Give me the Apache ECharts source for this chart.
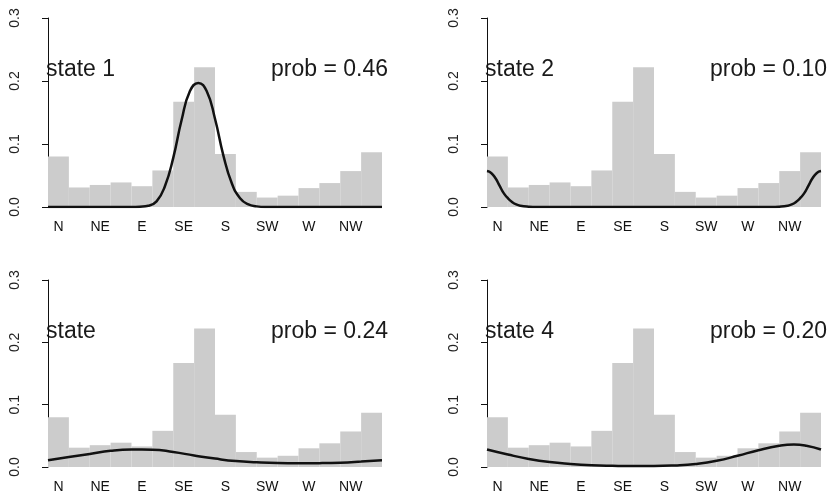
<!DOCTYPE html>
<html>
<head>
<meta charset="utf-8">
<script src="https://cdn.jsdelivr.net/npm/echarts@6/dist/echarts.min.js"></script>
<style>
  html, body { margin: 0; padding: 0; background: #fff; }
  #main { width: 832px; height: 494px; }
</style>
</head>
<body>
<div id="main"></div>
<script>
// 16 wind direction bins
var dirs = ['N', 'NNE', 'NE', 'ENE', 'E', 'ESE', 'SE', 'SSE', 'S', 'SSW', 'SW', 'WSW', 'W', 'WNW', 'NW', 'NNW'];
// histogram (density per bin), same in every panel
var histVals = [0.080, 0.031, 0.035, 0.039, 0.033, 0.058, 0.167, 0.222, 0.084, 0.024, 0.015, 0.018, 0.030, 0.038, 0.057, 0.087];

// fitted curves, [position in bins, density]
var curve1 = [[0, 0], [2, 0], [3.2, 0], [4.0, 0], [4.4, 0.0005], [4.8, 0.002], [5.2, 0.009], [5.6, 0.033], [6.0, 0.078],
  [6.4, 0.138], [6.8, 0.184], [7.2, 0.197], [7.6, 0.184], [8.0, 0.140], [8.4, 0.082], [8.8, 0.038], [9.2, 0.014],
  [9.6, 0.004], [10.0, 0.001], [10.4, 0], [11.6, 0], [13, 0], [16, 0]];
var curve2 = [[0, 0.057], [0.2, 0.054], [0.4, 0.046], [0.6, 0.034], [0.8, 0.022], [1.0, 0.014], [1.2, 0.008], [1.4, 0.004],
  [1.6, 0.002], [2.0, 0.0005], [2.4, 0], [4, 0], [12, 0], [13.6, 0], [14.0, 0.0005], [14.4, 0.002], [14.6, 0.004],
  [14.8, 0.008], [15.0, 0.014], [15.2, 0.022], [15.4, 0.034], [15.6, 0.046], [15.8, 0.054], [16, 0.057]];
var curve3 = [[0, 0.011], [1, 0.016], [2, 0.021], [3, 0.026], [4, 0.028], [5, 0.0278], [6, 0.024], [7, 0.0185],
  [8, 0.0135], [9, 0.0095], [10, 0.0075], [11, 0.0063], [12, 0.006], [13, 0.0062], [14, 0.007],
  [15, 0.0088], [16, 0.011]];
var curve4 = [[0, 0.028], [1, 0.020], [2, 0.013], [3, 0.008], [4, 0.005], [5, 0.003], [6, 0.002], [7, 0.0015],
  [8, 0.0015], [9, 0.0025], [10, 0.005], [11, 0.010], [12, 0.018], [13, 0.027], [14, 0.034], [14.7, 0.036],
  [15.3, 0.034], [16, 0.028]];

var stateNames = ['state 1', 'state 2', 'state', 'state 4'];
var probs = ['0.46', '0.10', '0.24', '0.20'];
var curves = [curve1, curve2, curve3, curve4];

var font = '"Liberation Sans", Arial, Helvetica, sans-serif';
var grids = [
  { left: 48, top: 18, width: 334, height: 189 },
  { left: 487, top: 18, width: 334, height: 189 },
  { left: 48, top: 280, width: 334, height: 188 },
  { left: 487, top: 280, width: 334, height: 188 }
];

var xAxes = [], yAxes = [], series = [], texts = [];
for (var i = 0; i < 4; i++) {
  xAxes.push({
    type: 'category', gridIndex: i, data: dirs, boundaryGap: true,
    axisLine: { show: false }, axisTick: { show: false },
    axisLabel: { interval: 1, color: '#111', fontFamily: font, fontSize: 14, margin: 13 }
  });
  yAxes.push({
    type: 'value', gridIndex: i, min: 0, max: 0.3, interval: 0.1, offset: 13,
    splitLine: { show: false },
    axisLine: { show: true, lineStyle: { color: '#111', width: 1 } },
    axisTick: { show: true, length: 6, lineStyle: { color: '#111' } },
    axisLabel: {
      rotate: 90, margin: 13, color: '#222', fontFamily: font, fontSize: 14,
      formatter: function (v) { return v.toFixed(1); }
    }
  });
  series.push({
    type: 'bar', xAxisIndex: i, yAxisIndex: i, data: histVals,
    barCategoryGap: '0%', itemStyle: { color: '#cccccc' }, silent: true
  });
  texts.push({
    type: 'text', x: grids[i].left - 2, y: grids[i].top + 52,
    style: { text: stateNames[i], font: '23px ' + font, fill: '#1a1a1a', align: 'left', verticalAlign: 'middle' }
  });
  texts.push({
    type: 'text', x: grids[i].left + 340, y: grids[i].top + 52,
    style: { text: 'prob = ' + probs[i], font: '23px ' + font, fill: '#1a1a1a', align: 'right', verticalAlign: 'middle' }
  });
}
for (var j = 0; j < 4; j++) {
  xAxes.push({ type: 'value', gridIndex: j, min: 0, max: 16, show: false });
  series.push({
    type: 'line', xAxisIndex: 4 + j, yAxisIndex: j, data: curves[j],
    smooth: 0.5, showSymbol: false, silent: true,
    lineStyle: { color: '#111', width: 2.5 }, z: 3
  });
}

var myChart = echarts.init(document.getElementById('main'));
myChart.setOption({
  animation: false,
  backgroundColor: '#fff',
  grid: grids,
  xAxis: xAxes,
  yAxis: yAxes,
  series: series,
  graphic: texts
});
</script>
</body>
</html>
